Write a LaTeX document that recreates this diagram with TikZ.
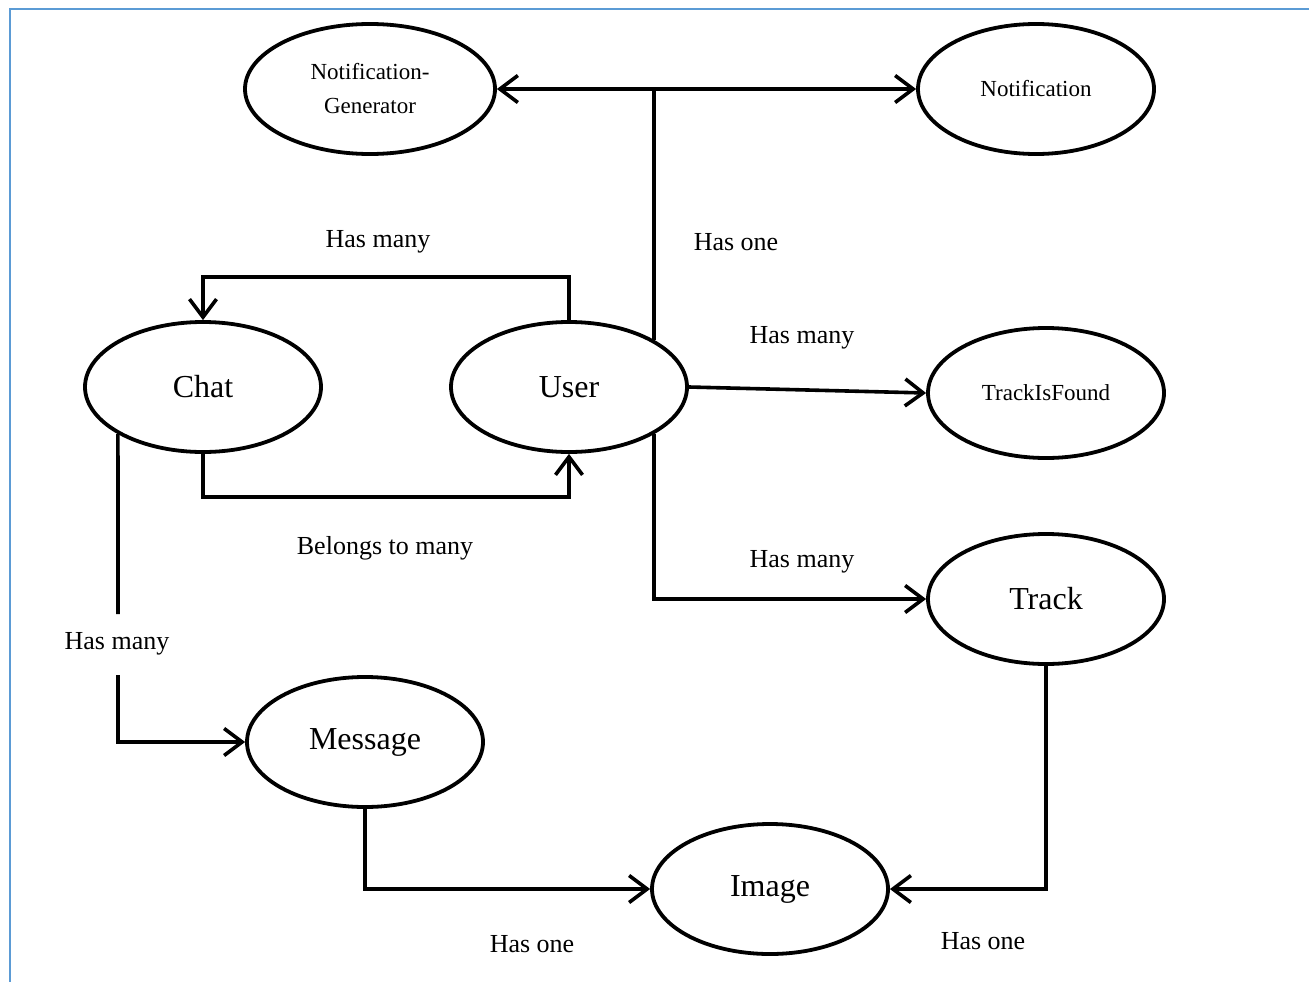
\documentclass[tikz,border=0pt]{standalone}
\usepackage{fontspec}
\setmainfont{Liberation Serif}
\usetikzlibrary{shapes.geometric,arrows.meta}
\definecolor{framecol}{RGB}{91,155,213}
\begin{document}
\begin{tikzpicture}[x=1pt,y=-1pt,
  entity/.style={draw,ellipse,line width=3.8pt,inner sep=0pt,
    minimum width=236pt,minimum height=130pt,align=center},
  bigtext/.style={font=\fontsize{32}{38}\selectfont},
  smalltext/.style={font=\fontsize{23}{34}\selectfont},
  lbl/.style={font=\fontsize{26}{30}\selectfont,inner sep=0pt},
  conn/.style={line width=3.6pt},
  arr/.style={conn,-{Straight Barb[length=18pt,width=27pt,line width=3.6pt]}},
  dblarr/.style={conn,{Straight Barb[length=18pt,width=27pt,line width=3.6pt]}-{Straight Barb[length=18pt,width=27pt,line width=3.6pt]}}]
\useasboundingbox (0,0) rectangle (1309,982);
% page frame
\draw[framecol,line width=2.6pt] (10,982) -- (10,9) -- (1309,9);

% entities
\node[entity,smalltext,minimum width=250pt] (ngen) at (370,89) {Notification-\\Generator};
\node[entity,smalltext] (notif) at (1036,89) {Notification};
\node[entity,bigtext] (chat) at (203,387) {Chat};
\node[entity,bigtext] (user) at (569,387) {User};
\node[entity,smalltext] (tif) at (1046,393) {TrackIsFound};
\node[entity,bigtext] (track) at (1046,599) {Track};
\node[entity,bigtext] (message) at (365,742) {Message};
\node[entity,bigtext] (image) at (770,889) {Image};

% relation labels
\node[lbl] (l1) at (378,242) {Has many};
\node[lbl] (l2) at (736,242) {Has one};
\node[lbl] (l3) at (802,338) {Has many};
\node[lbl] (l4) at (385,548) {Belongs to many};
\node[lbl] (l5) at (802,562) {Has many};
\node[lbl] (l6) at (117,644) {Has many};
\node[lbl] (l7) at (532,944) {Has one};
\node[lbl] (l8) at (983,941) {Has one};

% bend levels
\coordinate (ytop) at (0,277);
\coordinate (ybot) at (0,497);
\coordinate (cm1) at (118,614);
\coordinate (cm2) at (118,675);

% connectors
\draw[dblarr] (ngen.east) -- (notif.west);
\draw[conn] (user.29) -- (user.29 |- ngen.east);
\draw[arr] (user.north) -- (user.north |- ytop) -| (chat.north);
\draw[arr] (chat.south) -- (chat.south |- ybot) -| (user.south);
\draw[arr] (user.east) -- (tif.west);
\draw[arr] (user.-29) |- (track.west);
\draw[conn] (chat.209) -- (cm1);
\draw[arr] (cm2) |- (message.west);
\draw[arr] (message.south) |- (image.west);
\draw[arr] (track.south) |- (image.east);
\end{tikzpicture}
\end{document}
